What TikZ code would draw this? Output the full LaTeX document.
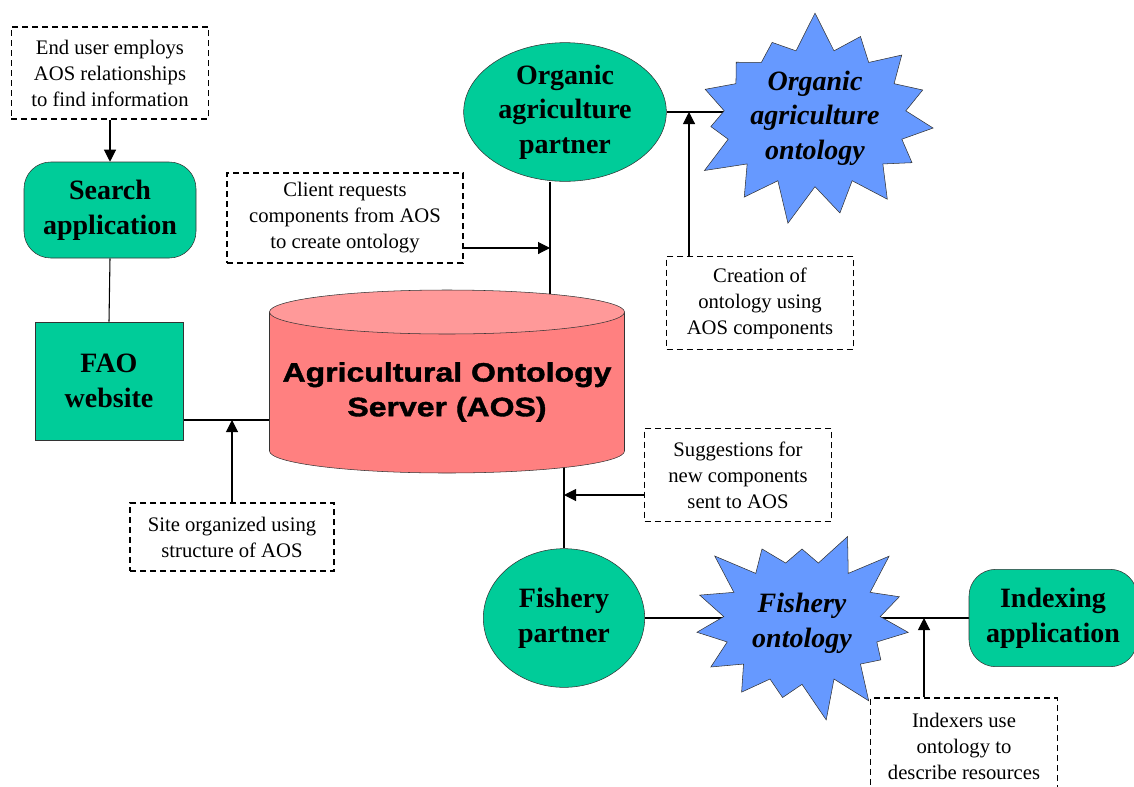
\documentclass[tikz,border=0pt]{standalone}
\usepackage{fontspec}
\setmainfont{Liberation Serif}
\newfontfamily\aosfont[FakeStretch=1.2,BoldFeatures={FakeBold=1.5}]{Liberation Sans}
\usetikzlibrary{positioning,shapes.geometric,shapes.symbols,arrows.meta,backgrounds}
\definecolor{partnergreen}{RGB}{0,204,153}
\definecolor{ontoblue}{RGB}{102,153,255}
\definecolor{aosbody}{RGB}{255,128,128}
\definecolor{aostop}{RGB}{255,153,153}
\tikzset{
  greenbox/.style={draw=black!80, fill=partnergreen, align=center, inner sep=0pt,
    font=\fontsize{21}{26}\selectfont\bfseries},
  notebox/.style={draw, dash pattern=on 4.5pt off 3pt, line width=0.9pt, align=center,
    inner sep=0pt, font=\fontsize{15.5}{19.5}\selectfont},
  burst/.style={starburst, starburst points=15, starburst point height=30pt,
    random starburst=7, draw=black!80, fill=ontoblue, align=center, inner sep=0pt,
    font=\fontsize{21}{26}\selectfont\bfseries\itshape},
  link/.style={line width=0.8pt},
  pointer/.style={line width=0.8pt, -{Triangle[width=9pt,length=9pt]}}
}

\begin{document}
\begin{tikzpicture}[x=0.75pt,y=-0.75pt]
\useasboundingbox (0,0) rectangle (1134,786);
%the nodes
\node [notebox,minimum width=148pt,minimum height=69pt] (endUser) at (110,73) {End user employs\\AOS relationships\\to find information};
\node [greenbox,rounded corners=20pt,minimum width=129pt,minimum height=72pt] (searchApp) at (110,210) {Search\\application};
\node [greenbox,minimum width=111pt,minimum height=88.5pt] (faoSite) at (109,381) {FAO\\website};
\node [notebox,minimum width=153pt,minimum height=51pt] (siteNote) at (232,537) {Site organized using\\structure of AOS};
\node [notebox,minimum width=177pt,minimum height=67.5pt] (clientNote) at (345,218) {Client requests\\components from AOS\\to create ontology};
\node [greenbox,ellipse,minimum width=152pt,minimum height=104pt] (orgPartner) at (565,112) {Organic\\agriculture\\partner};
\node [burst,minimum width=169pt,minimum height=163pt] (orgOnto) at (815,118) {Organic\\agriculture\\ontology};
\node [notebox,minimum width=140pt,minimum height=70pt] (creationNote) at (760,303) {Creation of\\ontology using\\AOS components};
\node [align=center,minimum width=266.25pt,font=\aosfont\bfseries\fontsize{20}{26}\selectfont] (aos) at (447,392) {Agricultural Ontology\\Server (AOS)};
\node [notebox,minimum width=140pt,minimum height=70pt] (suggNote) at (738,475) {Suggestions for\\new components\\sent to AOS};
\node [greenbox,ellipse,minimum width=121pt,minimum height=104pt] (fishPartner) at (564,618) {Fishery\\partner};
\node [burst,random starburst=3,minimum width=178pt,minimum height=152pt] (fishOnto) at (802,623) {Fishery\\ontology};
\node [greenbox,rounded corners=20pt,minimum width=126pt,minimum height=73pt] (indexApp) at (1053,618) {Indexing\\application};
\node [notebox,minimum width=140pt,minimum height=72pt] (indexNote) at (964,746) {Indexers use\\ontology to\\describe resources};
%link points
\coordinate (faoLink) at ([yshift=-29.25pt]faoSite.east);
\coordinate (orgLink) at ([xshift=-11.25pt]orgPartner.south);
\coordinate (clientLink) at ([yshift=-22.5pt]clientNote.east);
\coordinate (creationLink) at ([xshift=-53.25pt]creationNote.north);
\coordinate (suggLink) at ([yshift=-15pt]suggNote.west);
\coordinate (indexLink) at ([xshift=-30pt]indexNote.north);
%drawings of lines
\begin{scope}[on background layer]
\draw[pointer] (endUser.south) -- (searchApp.north);
\draw[link] (searchApp.south) -- (faoSite.north);
\draw[link] (faoLink) -- (faoLink -| aos.west);
\draw[pointer] (siteNote.north) -- (siteNote.north |- faoLink);

\draw[link] (orgLink) -- (orgLink |- aos.center);
\draw[pointer] (clientLink) -- (clientLink -| orgLink);
\draw[link] (orgPartner.east) -- (orgPartner.east -| orgOnto.center);
\draw[pointer] (creationLink) -- (creationLink |- orgPartner.east);

\draw[link] (fishPartner.north) -- (fishPartner.north |- aos.center);
\draw[pointer] (suggLink) -- (suggLink -| fishPartner.north);
\draw[link] (fishPartner.east) -- (indexApp.west);
\draw[pointer] (indexLink) -- (indexLink |- indexApp.west);

%% server cylinder
\draw[draw=black!80,fill=aosbody] ([xshift=-133.125pt,yshift=60pt]aos.center) -- ([xshift=-133.125pt,yshift=-44.25pt]aos.center)
  arc[start angle=180,end angle=360,x radius=133.125pt,y radius=16.5pt] -- ([xshift=133.125pt,yshift=60pt]aos.center) -- cycle;
\draw[draw=black!80,fill=aostop] ([yshift=60pt]aos.center) ellipse [x radius=133.125pt,y radius=16.5pt];
\end{scope}
\end{tikzpicture}
\end{document}
